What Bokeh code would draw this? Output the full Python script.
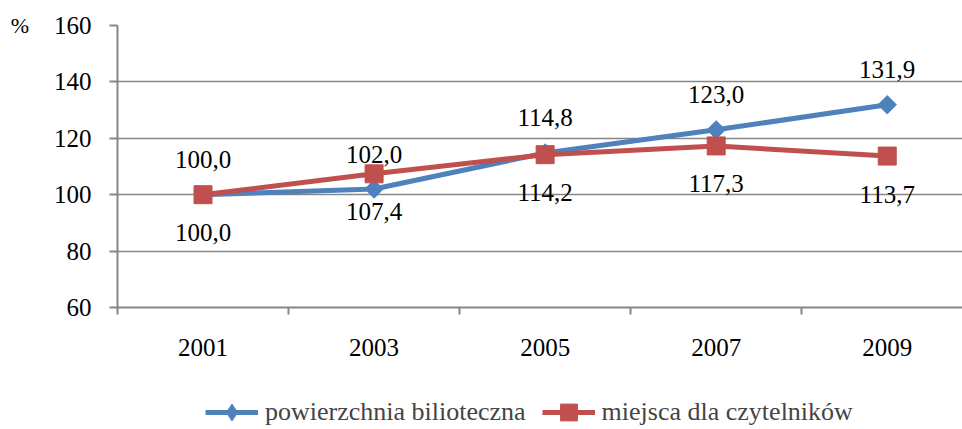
from bokeh.plotting import figure
from bokeh.layouts import column
from bokeh.models import Range1d, FixedTicker, Legend, LegendItem, LabelSet, ColumnDataSource
from bokeh.embed import file_html
from bokeh.resources import INLINE
import numpy as np

years = ["2001", "2003", "2005", "2007", "2009"]
powierzchnia = [100.0, 102.0, 114.8, 123.0, 131.9]
miejsca = [100.0, 107.4, 114.2, 117.3, 113.7]
y_ticks = [60, 80, 100, 120, 140, 160]
series_names = ["powierzchnia bilioteczna", "miejsca dla czytelników"]
unit_label = "%"

BLUE = "#4F81BD"
RED = "#C0504D"
GRAY = "#868686"
FONT = "Liberation Serif"

xs = list(range(len(years)))


def fmt(v):
    return f"{v:.1f}".replace(".", ",")


src = ColumnDataSource(dict(
    x=xs, b=powierzchnia, r=miejsca,
    bl=[fmt(v) for v in powierzchnia], rl=[fmt(v) for v in miejsca],
))

MAIN_H = 380
p = figure(width=962, height=MAIN_H, x_range=Range1d(-0.5, 4.44), y_range=Range1d(60, 160),
           output_backend="svg", toolbar_location=None,
           min_border_left=117, min_border_right=0, min_border_top=25,
           min_border_bottom=MAIN_H - 307)
p.outline_line_color = None
p.xgrid.grid_line_color = None
p.ygrid.grid_line_color = GRAY
p.ygrid.grid_line_width = 1.5
p.ygrid.ticker = FixedTicker(ticks=y_ticks)

# y axis
p.yaxis.ticker = FixedTicker(ticks=y_ticks)
p.yaxis.axis_line_color = GRAY
p.yaxis.axis_line_width = 2
p.yaxis.major_tick_line_color = GRAY
p.yaxis.major_tick_line_width = 2
p.yaxis.major_tick_out = 8
p.yaxis.major_tick_in = 0
p.yaxis.minor_tick_line_color = None
p.yaxis.major_label_standoff = 18
p.yaxis.major_label_text_font = FONT
p.yaxis.major_label_text_font_size = "25px"
p.yaxis.major_label_text_color = "black"
p.yaxis.axis_label = unit_label
p.yaxis.axis_label_orientation = "horizontal"
p.yaxis.axis_label_standoff = 22
p.yaxis.axis_label_text_font = FONT
p.yaxis.axis_label_text_font_style = "normal"
p.yaxis.axis_label_text_font_size = "22px"
p.yaxis.axis_label_text_color = "black"
try:
    p.yaxis.axis_label_align = "end"
except Exception:
    pass

# x axis
p.xaxis.ticker = FixedTicker(ticks=xs, minor_ticks=[i - 0.5 for i in range(len(years) + 1)])
p.xaxis.major_label_overrides = {i: y for i, y in enumerate(years)}
p.xaxis.axis_line_color = GRAY
p.xaxis.axis_line_width = 2
p.xaxis.major_tick_line_color = None
p.xaxis.major_tick_out = 0
p.xaxis.major_tick_in = 0
p.xaxis.minor_tick_line_color = GRAY
p.xaxis.minor_tick_line_width = 2
p.xaxis.minor_tick_out = 7
p.xaxis.minor_tick_in = 0
p.xaxis.major_label_standoff = 24
p.xaxis.major_label_text_font = FONT
p.xaxis.major_label_text_font_size = "25px"
p.xaxis.major_label_text_color = "black"

p.line("x", "b", source=src, line_color=BLUE, line_width=5)
p.scatter("x", "b", source=src, marker="square", angle=np.pi / 4, size=13,
          fill_color=BLUE, line_color=BLUE)
p.line("x", "r", source=src, line_color=RED, line_width=5)
p.scatter("x", "r", source=src, marker="square", size=18, fill_color=RED, line_color=RED)

p.add_layout(LabelSet(x="x", y="b", text="bl", source=src, y_offset=35, text_align="center",
                      text_baseline="middle", text_font=FONT, text_font_size="25px",
                      text_color="black"))
p.add_layout(LabelSet(x="x", y="r", text="rl", source=src, y_offset=-38, text_align="center",
                      text_baseline="middle", text_font=FONT, text_font_size="25px",
                      text_color="black"))

# legend strip below the chart (series drawn out of view, only their legend glyphs show)
LEG_H = 429 - MAIN_H
lg = figure(width=962, height=LEG_H, x_range=Range1d(-0.5, 4.44), y_range=Range1d(0, 1),
            output_backend="svg", toolbar_location=None, x_axis_type=None, y_axis_type=None,
            min_border=0)
lg.outline_line_color = None
lg.grid.grid_line_color = None
l1 = lg.line(xs, powierzchnia, line_color=BLUE, line_width=5)
m1 = lg.scatter(xs, powierzchnia, marker="diamond", size=20, fill_color=BLUE, line_color=BLUE)
l2 = lg.line(xs, miejsca, line_color=RED, line_width=5)
m2 = lg.scatter(xs, miejsca, marker="square", size=18, fill_color=RED, line_color=RED)

legend = Legend(items=[LegendItem(label=series_names[0], renderers=[l1, m1]),
                       LegendItem(label=series_names[1], renderers=[l2, m2])],
                location=(88, -4), orientation="horizontal",
                label_text_font=FONT, label_text_font_size="26px",
                glyph_width=53, glyph_height=42, spacing=16, label_standoff=7,
                padding=0, margin=0, border_line_color=None, background_fill_alpha=0)
lg.add_layout(legend, "center")

open("out.html", "w").write(file_html(column(p, lg, spacing=0), INLINE))
